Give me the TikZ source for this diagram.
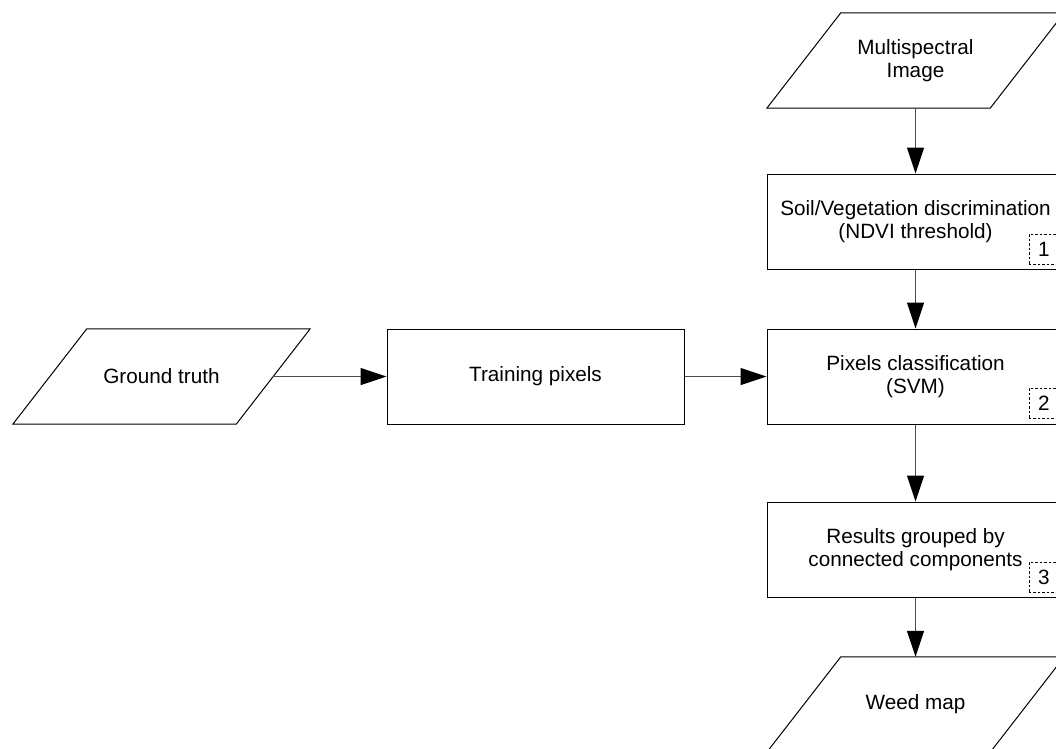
\documentclass[tikz,border=0pt]{standalone}
\usepackage{fontspec}
\setmainfont{Liberation Sans}
\usetikzlibrary{arrows.meta,calc}
\begin{document}
\begin{tikzpicture}[x=1pt,y=-1pt,
  every node/.style={font=\fontsize{20.7}{23.5}\selectfont, align=center, inner sep=0pt},
  procbox/.style={draw=black, line width=1pt, minimum width=297pt, minimum height=95pt},
  iobox/.style={minimum width=223pt, minimum height=95pt},
  numbox/.style={draw=black, line width=0.8pt, dash pattern=on 2.5pt off 2pt, minimum width=30pt, minimum height=30pt, anchor=south west},
  conn/.style={draw=black!70, line width=1.2pt, -{Triangle[length=26pt,width=17pt,color=black]}},
  outline/.style={draw=black, line width=1pt}
]
\useasboundingbox (0,0) rectangle (1056,748);
\clip (0,0) rectangle (1056,748);

\node[iobox] (ms) at (915.5,60.5) {Multispectral\\Image};
\node[procbox] (b1) at (915.5,221.5) {Soil/Vegetation discrimination\\(NDVI threshold)};
\node[procbox] (b2) at (915.5,376.5) {Pixels classification\\(SVM)};
\node[procbox] (b3) at (915.5,549.5) {Results grouped by\\connected components};
\node[iobox] (wm) at (915.5,704.5) {Weed map};
\node[iobox] (gt) at (161.5,376.5) {Ground truth};
\node[procbox] (tp) at (535.5,376.5) {Training pixels};

\foreach \n in {ms,wm,gt}{
  \draw[outline] ([xshift=37pt]\n.north west) -- ([xshift=37pt]\n.north east)
    -- ([xshift=-37pt]\n.south east) -- ([xshift=-37pt]\n.south west) -- cycle;
}

\node[numbox] (n1) at ($(b1.south east)+(-36,-5)$) {1};
\node[numbox] (n2) at ($(b2.south east)+(-36,-6)$) {2};
\node[numbox] (n3) at ($(b3.south east)+(-36,-5)$) {3};

\draw[conn] (ms.south) -- (b1.north);
\draw[conn] (b1.south) -- (b2.north);
\draw[conn] (b2.south) -- (b3.north);
\draw[conn] (b3.south) -- (wm.north);
\draw[conn] (gt.east) -- (tp.west);
\draw[conn] (tp.east) -- (b2.west);
\end{tikzpicture}
\end{document}
